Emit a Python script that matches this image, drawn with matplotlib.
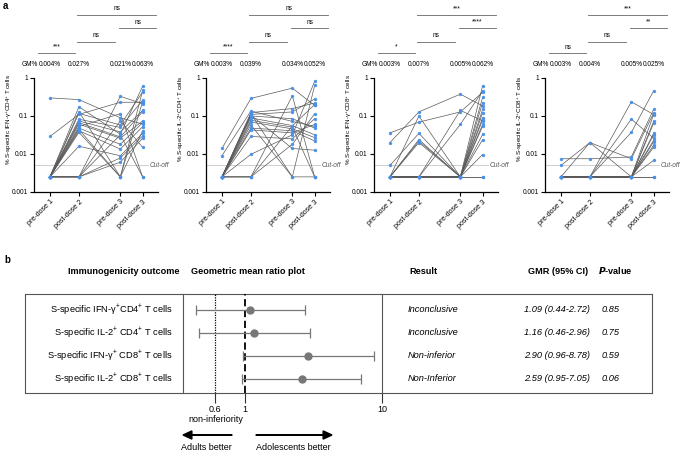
import matplotlib
matplotlib.use("Agg")
import matplotlib.pyplot as plt
import matplotlib.transforms as mtransforms
import numpy as np

plt.rcParams["font.family"] = ["Liberation Sans", "DejaVu Sans"]
plt.rcParams["mathtext.fontset"] = "custom"
plt.rcParams["mathtext.rm"] = "Liberation Sans"
plt.rcParams["mathtext.it"] = "Liberation Sans:italic"
plt.rcParams["mathtext.bf"] = "Liberation Sans:bold"

# ---- panel a data : one row per participant, columns = timepoints ----
timepoints = ["pre-dose 1", "post-dose 2", "pre-dose 3", "post-dose 3"]

ifng_cd4 = np.array([
    [0.30, 0.27, 0.09, 0.061],
    [0.029, 0.11, 0.23, 0.23],
    [0.0025, 0.175, 0.033, 0.61],
    [0.0025, 0.13, 0.0025, 0.47],
    [0.0025, 0.117, 0.058, 0.43],
    [0.0025, 0.082, 0.050, 0.26],
    [0.0025, 0.074, 0.038, 0.14],
    [0.0025, 0.067, 0.028, 0.13],
    [0.0025, 0.061, 0.026, 0.074],
    [0.0025, 0.053, 0.115, 0.0025],
    [0.0025, 0.048, 0.018, 0.067],
    [0.0025, 0.041, 0.0135, 0.052],
    [0.0025, 0.037, 0.0025, 0.041],
    [0.0025, 0.016, 0.009, 0.035],
    [0.0025, 0.0025, 0.33, 0.21],
    [0.0025, 0.0025, 0.0079, 0.030],
    [0.0025, 0.0025, 0.0061, 0.026],
    [0.0025, 0.0025, 0.074, 0.015],
    [0.0025, 0.0025, 0.032, 0.0025],
    [0.0025, 0.044, 0.0025, 0.24],
])

il2_cd4 = np.array([
    [0.014, 0.29, 0.54, 0.19],
    [0.009, 0.135, 0.072, 0.053],
    [0.0025, 0.123, 0.157, 0.22],
    [0.0025, 0.11, 0.128, 0.28],
    [0.0025, 0.10, 0.085, 0.048],
    [0.0025, 0.089, 0.056, 0.032],
    [0.0025, 0.077, 0.051, 0.0025],
    [0.0025, 0.069, 0.046, 0.027],
    [0.0025, 0.058, 0.0025, 0.0025],
    [0.0025, 0.048, 0.041, 0.022],
    [0.0025, 0.043, 0.036, 0.060],
    [0.0025, 0.029, 0.025, 0.085],
    [0.0025, 0.0098, 0.032, 0.81],
    [0.0025, 0.0025, 0.34, 0.0025],
    [0.0025, 0.0025, 0.018, 0.115],
    [0.0025, 0.105, 0.014, 0.0126],
    [0.0025, 0.115, 0.0025, 0.64],
    [0.0025, 0.0025, 0.055, 0.20],
])

ifng_cd8 = np.array([
    [0.036, 0.069, 0.128, 0.42],
    [0.020, 0.128, 0.376, 0.184],
    [0.005, 0.035, 0.0025, 0.63],
    [0.0025, 0.10, 0.0025, 0.226],
    [0.0025, 0.024, 0.0025, 0.123],
    [0.0025, 0.022, 0.0025, 0.09],
    [0.0025, 0.0025, 0.141, 0.074],
    [0.0025, 0.0025, 0.06, 0.46],
    [0.0025, 0.0025, 0.0025, 0.054],
    [0.0025, 0.0025, 0.0025, 0.06],
    [0.0025, 0.0025, 0.0025, 0.033],
    [0.0025, 0.0025, 0.0025, 0.024],
    [0.0025, 0.0025, 0.0025, 0.0097],
    [0.0025, 0.0025, 0.0025, 0.0025],
    [0.0025, 0.0025, 0.0025, 0.31],
    [0.0025, 0.0025, 0.0025, 0.15],
    [0.0025, 0.020, 0.0025, 0.08],
    [0.0025, 0.0025, 0.0025, 0.0025],
])

il2_cd8 = np.array([
    [0.0075, 0.0075, 0.0084, 0.15],
    [0.005, 0.020, 0.0075, 0.12],
    [0.0025, 0.020, 0.0025, 0.072],
    [0.0025, 0.0025, 0.237, 0.109],
    [0.0025, 0.0025, 0.083, 0.026],
    [0.0025, 0.0025, 0.037, 0.46],
    [0.0025, 0.0025, 0.0025, 0.065],
    [0.0025, 0.0025, 0.0025, 0.035],
    [0.0025, 0.0025, 0.0025, 0.032],
    [0.0025, 0.0025, 0.0025, 0.023],
    [0.0025, 0.0025, 0.0025, 0.021],
    [0.0025, 0.0025, 0.0025, 0.017],
    [0.0025, 0.0025, 0.0025, 0.015],
    [0.0025, 0.0025, 0.0025, 0.0068],
    [0.0025, 0.0025, 0.0025, 0.0025],
    [0.0025, 0.0025, 0.0025, 0.0025],
    [0.0025, 0.0025, 0.0025, 0.11],
])

panel_data = [ifng_cd4, il2_cd4, ifng_cd8, il2_cd8]
ylabels = [r"% S-specific IFN-γ$^{+}$CD4$^{+}$ T cells",
           r"% S-specific IL-2$^{+}$CD4$^{+}$ T cells",
           r"% S-specific IFN-γ$^{+}$CD8$^{+}$ T cells",
           r"% S-specific IL-2$^{+}$CD8$^{+}$ T cells"]
gm_labels = [["0.004%", "0.027%", "0.021%", "0.063%"],
             ["0.003%", "0.039%", "0.034%", "0.052%"],
             ["0.003%", "0.007%", "0.005%", "0.062%"],
             ["0.003%", "0.004%", "0.005%", "0.025%"]]
# significance: pre1-post2, post2-pre3, pre3-post3, post2-post3
sig_labels = [["***", "ns", "ns", "ns"],
              ["****", "ns", "ns", "ns"],
              ["*", "ns", "****", "***"],
              ["ns", "ns", "**", "***"]]
cutoff = 0.005

# ---- panel b data ----
outcomes = [r"S-specific IFN-γ$^{+}$CD4$^{+}$ T cells",
            r"S-specific IL-2$^{+}$ CD4$^{+}$ T cells",
            r"S-specific IFN-γ$^{+}$ CD8$^{+}$ T cells",
            r"S-specific IL-2$^{+}$ CD8$^{+}$ T cells"]
gmr = [1.09, 1.16, 2.90, 2.59]
ci_low = [0.44, 0.46, 0.96, 0.95]
ci_high = [2.72, 2.96, 8.78, 7.05]
results = ["Inconclusive", "Inconclusive", "Non-inferior", "Non-Inferior"]
pvalues = ["0.85", "0.75", "0.59", "0.06"]
margin = 0.6

W, H = 682, 453
fig = plt.figure(figsize=(W / 100, H / 100), dpi=100)


def fx(px):
    return px / W


def fy(py):
    return 1 - py / H


# ---------------- panel a ----------------
xpos = np.array([0, 1, 2.43, 3.2])
lefts = [34, 206, 374, 545]
blue = "#4a90e8"
fs = 4.7
br_x = [(-0.4, 0.85), (0.95, 2.25), (2.4, 3.65), (0.95, 3.65)]
br_y = [1.215, 1.32, 1.435, 1.55]

for k in range(4):
    ax = fig.add_axes([fx(lefts[k]), fy(192), fx(124), (192 - 78) / H])
    d = panel_data[k]
    for row in d:
        ax.plot(xpos, row, color="#5a5a5a", lw=0.5, zorder=2)
    for j in range(4):
        ax.plot(np.full(len(d), xpos[j]), d[:, j], ls="none", marker="o",
                ms=2.1, mfc=blue, mec=blue, mew=0.3, zorder=3)
    ax.set_yscale("log")
    ax.set_ylim(0.001, 1)
    ax.set_xlim(-0.55, 3.73)
    ax.set_yticks([0.001, 0.01, 0.1, 1])
    ax.set_yticklabels(["0.001", "0.01", "0.1", "1"])
    ax.minorticks_off()
    ax.set_xticks(xpos)
    ax.set_xticklabels(timepoints, rotation=45, ha="right", rotation_mode="anchor")
    ax.tick_params(axis="y", labelsize=fs, length=3, width=0.8, pad=1.5)
    ax.tick_params(axis="x", labelsize=5.1, length=3, width=0.8, pad=1.5)
    for s in ["top", "right"]:
        ax.spines[s].set_visible(False)
    ax.spines["left"].set_linewidth(0.9)
    ax.spines["bottom"].set_linewidth(0.9)
    ax.set_ylabel(ylabels[k], fontsize=4.5)
    ax.yaxis.set_label_coords(-0.165, 0.64)

    # cut-off
    ax.plot([-0.55, 3.4], [cutoff, cutoff], color="#c8c8c8", lw=0.6, zorder=1)
    ax.text(3.45, cutoff, "Cut-off", fontsize=fs, style="italic",
            color="#555555", va="center", ha="left", clip_on=False)

    trans = mtransforms.blended_transform_factory(ax.transData, ax.transAxes)
    # GM% row
    ax.text(xpos[0] - 0.42, 1.115, "GM%", transform=trans, fontsize=fs,
            ha="right", va="center")
    for j in range(4):
        ax.text(xpos[j], 1.115, gm_labels[k][j], transform=trans, fontsize=fs,
                ha="center", va="center")
    # significance lines
    for b in range(4):
        x0, x1 = br_x[b]
        ax.plot([x0, x1], [br_y[b], br_y[b]], transform=trans, color="#666666",
                lw=0.6, clip_on=False)
        ax.text((x0 + x1) / 2, br_y[b] + 0.025, sig_labels[k][b], transform=trans,
                fontsize=fs, ha="center", va="bottom")

fig.text(fx(3), fy(6), "a", fontsize=7, fontweight="bold", va="center")
fig.text(fx(4), fy(260), "b", fontsize=7, fontweight="bold", va="center")

# ---------------- panel b ----------------
box_top, box_bot = 294, 393
tab = fig.add_axes([fx(25), fy(box_bot), fx(652 - 25), (box_bot - box_top) / H])
tab.set_xlim(25, 652)
tab.set_ylim(box_bot, box_top)
tab.set_xticks([])
tab.set_yticks([])
for s in tab.spines.values():
    s.set_linewidth(0.8)
    s.set_color("#555555")

row_y = [310, 333, 356, 379]
hfs = 6.6
tfs = 6.7
fig.text(fx(124), fy(271), "Immunogenicity outcome", fontsize=hfs,
         fontweight="bold", ha="center", va="center")
fig.text(fx(191), fy(271), "Geometric mean ratio plot", fontsize=hfs,
         fontweight="bold", ha="left", va="center")
fig.text(fx(409), fy(271), "Result", fontsize=hfs, fontweight="bold",
         ha="left", va="center")
fig.text(fx(588), fy(271), "GMR (95% CI)", fontsize=hfs, fontweight="bold",
         ha="right", va="center")
fig.text(fx(598), fy(271), r"$\mathbfit{P}$-value", fontsize=hfs,
         fontweight="bold", ha="left", va="center")

for i in range(4):
    tab.text(173, row_y[i], outcomes[i], fontsize=tfs, ha="right", va="center")
    tab.text(408, row_y[i], results[i], fontsize=tfs, style="italic",
             ha="left", va="center")
    tab.text(590, row_y[i], "%.2f (%.2f-%.2f)" % (gmr[i], ci_low[i], ci_high[i]),
             fontsize=tfs, style="italic", ha="right", va="center")
    tab.text(602, row_y[i], pvalues[i], fontsize=tfs, style="italic",
             ha="left", va="center")

fp = fig.add_axes([fx(183), fy(box_bot), fx(382 - 183), (box_bot - box_top) / H])
fp.patch.set_alpha(0)
fp.set_xscale("log")
fp.set_xlim(0.3527, 10)
fp.set_ylim(box_bot, box_top)
fp.axvline(1, color="black", ls=(0, (4, 2)), lw=1.3, zorder=2)
fp.axvline(margin, color="black", ls=(0, (1, 1)), lw=0.9, zorder=2)
for i in range(4):
    err = [[gmr[i] - ci_low[i]], [ci_high[i] - gmr[i]]]
    fp.errorbar([gmr[i]], [row_y[i]], xerr=err, fmt="o", color="#777777",
                ms=5, elinewidth=0.9, capsize=3.5, capthick=0.9, zorder=3)
fp.minorticks_off()
fp.set_xticks([0.6, 1, 10])
fp.set_xticklabels(["0.6", "1", "10"])
fp.set_yticks([])
fp.tick_params(axis="x", labelsize=6.5, length=7, width=0.8, pad=1.5,
               color="#333333")
fp.spines["top"].set_visible(False)
fp.spines["bottom"].set_visible(False)
for s in ["left", "right"]:
    fp.spines[s].set_linewidth(0.8)
    fp.spines[s].set_color("#555555")

fig.text(fx(216), fy(419), "non-inferiority", fontsize=6.5, ha="center",
         va="center")
fig.patches.append(matplotlib.patches.FancyArrow(
    fx(232), fy(435), fx(183) - fx(232), 0, width=0.001, head_width=0.018,
    head_length=0.013, length_includes_head=True, color="black",
    transform=fig.transFigure, figure=fig))
fig.patches.append(matplotlib.patches.FancyArrow(
    fx(256), fy(435), fx(332) - fx(256), 0, width=0.001, head_width=0.018,
    head_length=0.013, length_includes_head=True, color="black",
    transform=fig.transFigure, figure=fig))
fig.text(fx(206), fy(448), "Adults better", fontsize=6.5, ha="center", va="center")
fig.text(fx(293), fy(448), "Adolescents better", fontsize=6.5, ha="center",
         va="center")

fig.savefig("out.png", dpi=100)
